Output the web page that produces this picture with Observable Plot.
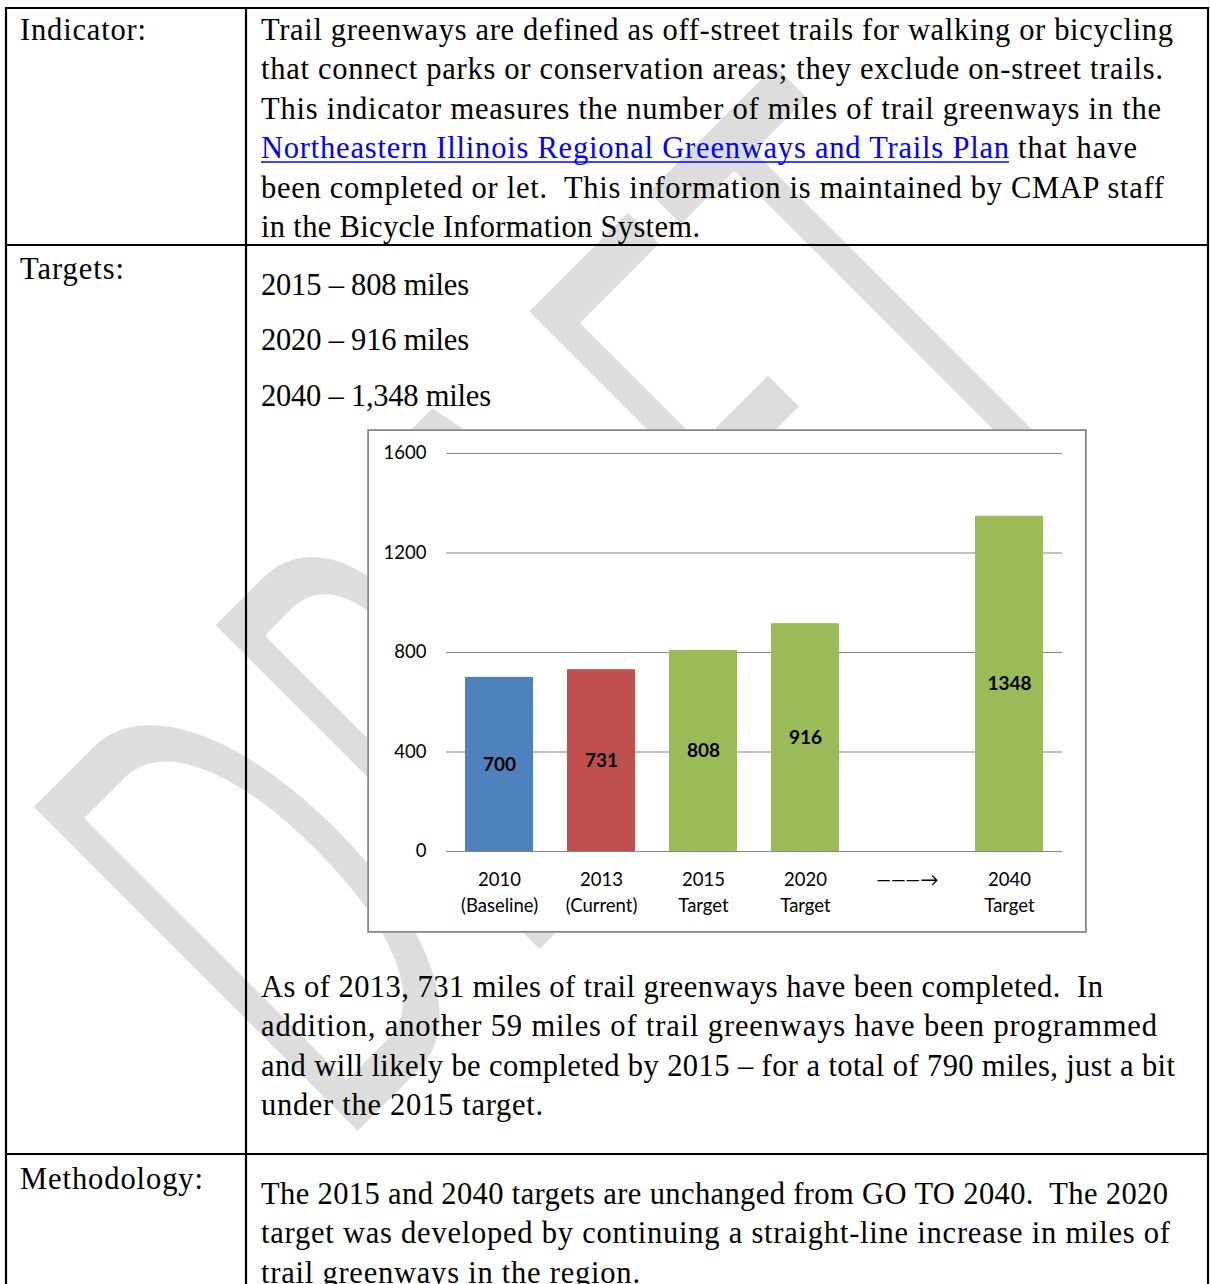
<!DOCTYPE html>
<html>
<head>
<meta charset="utf-8">
<script src="https://cdn.jsdelivr.net/npm/d3@7"></script>
<script src="https://cdn.jsdelivr.net/npm/@observablehq/plot@0.6"></script>
<style>
  html, body { margin: 0; padding: 0; background: #fff; }
  #page { position: relative; width: 1210px; height: 1284px; overflow: hidden; background: #fff; }
  #page > svg.layer { position: absolute; left: 0; top: 0; }
  .doc { font-family: "Liberation Serif", "Times New Roman", serif; font-size: 30.5px; fill: #000; white-space: pre; }
  .link { fill: #0000ff; }
  #chartbox { position: absolute; left: 368px; top: 430px; width: 716px; height: 500px; border: 1px solid #868686; outline: 1px solid #a0a0a0; background: #fff; }
</style>
</head>
<body>
<div id="page">
  <svg class="layer" width="1210" height="1284" viewBox="0 0 1210 1284">
    <g id="wm"></g>
    <g stroke="#000" stroke-width="2.2" fill="none">
      <line x1="6" y1="8" x2="1208" y2="8"/>
      <line x1="6" y1="7" x2="6" y2="1284"/>
      <line x1="246" y1="7" x2="246" y2="1284"/>
      <line x1="1208" y1="7" x2="1208" y2="1284"/>
      <line x1="6" y1="245" x2="1208" y2="245"/>
      <line x1="6" y1="1154" x2="1208" y2="1154"/>
    </g>
    <g id="doctext"></g>
  </svg>
  <div id="chartbox"></div>
</div>
<script>
// ---------- chart data ----------
const categories = ["2010\n(Baseline)", "2013\n(Current)", "2015\nTarget", "2020\nTarget", "———→", "2040\nTarget"];
const values = [700, 731, 808, 916, null, 1348];
const barColors = ["#4F81BD", "#C0504D", "#9BBB59", "#9BBB59", null, "#9BBB59"];
const yTicks = [0, 400, 800, 1200, 1600];

// ---------- document text ----------
const rowLabels = [
  {t: "Indicator:", y: 39.5, w: 126},
  {t: "Targets:", y: 278.5, w: 104},
  {t: "Methodology:", y: 1188.5, w: 183}
];
const bodyLines = [
  {t: "Trail greenways are defined as off-street trails for walking or bicycling", y: 39.5, w: 912},
  {t: "that connect parks or conservation areas; they exclude on-street trails.", y: 79, w: 902},
  {t: "This indicator measures the number of miles of trail greenways in the", y: 118.5, w: 900},
  {t: "Northeastern Illinois Regional Greenways and Trails Plan", y: 158, w: 748, link: true},
  {t: "that have", y: 158, w: 119, x: 1018},
  {t: "been completed or let.  This information is maintained by CMAP staff", y: 197.5, w: 903},
  {t: "in the Bicycle Information System.", y: 237, w: 439},
  {t: "2015 – 808 miles", y: 294.5, w: 208},
  {t: "2020 – 916 miles", y: 350, w: 208},
  {t: "2040 – 1,348 miles", y: 405.5, w: 230},
  {t: "As of 2013, 731 miles of trail greenways have been completed.  In", y: 996.5, w: 842},
  {t: "addition, another 59 miles of trail greenways have been programmed", y: 1036, w: 896},
  {t: "and will likely be completed by 2015 – for a total of 790 miles, just a bit", y: 1075.5, w: 914},
  {t: "under the 2015 target.", y: 1115, w: 282},
  {t: "The 2015 and 2040 targets are unchanged from GO TO 2040.  The 2020", y: 1203.5, w: 907},
  {t: "target was developed by continuing a straight-line increase in miles of", y: 1243, w: 909},
  {t: "trail greenways in the region.", y: 1282.5, w: 379}
];
const watermarkText = "DRAFT";

// watermark (light grey diagonal word behind the page)
d3.select("#wm").append("text")
  .attr("transform", "translate(338,1156) rotate(-45) scale(1,2.0)")
  .attr("font-family", "Lato, 'DejaVu Sans', sans-serif")
  .attr("font-size", 325)
  .attr("letter-spacing", 10)
  .attr("fill", "#dddddd")
  .attr("stroke", "#fff")
  .attr("stroke-width", 6)
  .attr("stroke-linejoin", "round")
  .attr("vector-effect", "non-scaling-stroke")
  .attr("paint-order", "fill")
  .text(watermarkText);

// document text
const dt = d3.select("#doctext");
for (const r of rowLabels) {
  dt.append("text").attr("class", "doc").attr("x", 20).attr("y", r.y)
    .attr("textLength", r.w).attr("lengthAdjust", "spacing").text(r.t);
}
for (const l of bodyLines) {
  const x = l.x ?? 261;
  dt.append("text").attr("class", "doc" + (l.link ? " link" : "")).attr("x", x).attr("y", l.y)
    .attr("textLength", l.w).attr("lengthAdjust", "spacing").text(l.t);
  if (l.link) {
    dt.append("line").attr("x1", x).attr("x2", x + l.w).attr("y1", l.y + 4).attr("y2", l.y + 4)
      .attr("stroke", "#0000ff").attr("stroke-width", 1.6);
  }
}

// chart
const data = categories.map((c, i) => ({cat: c, value: values[i], color: barColors[i]}));
const bars = data.filter(d => d.value != null);
const chart = Plot.plot({
  width: 716,
  height: 500,
  marginTop: 22,
  marginBottom: 80,
  marginLeft: 77,
  marginRight: 23,
  style: {fontFamily: "Lato, 'DejaVu Sans', sans-serif", fontSize: "18.5px", color: "#000", background: "#fff", overflow: "visible"},
  x: {domain: categories, paddingInner: 0.338, paddingOuter: 0.169, label: null},
  y: {domain: [0, 1600], label: null},
  marks: [
    Plot.ruleY(yTicks, {stroke: "#868686", strokeWidth: 1.2}),
    Plot.barY(bars, {x: "cat", y: "value", fill: "color"}),
    Plot.text(bars, {x: "cat", y: d => d.value / 2, text: d => String(d.value), fontWeight: "bold", fontSize: 19, fill: "#000"}),
    Plot.axisY({ticks: yTicks, tickFormat: d => String(d), tickSize: 0, tickPadding: 20, label: null, fontSize: 18.5}),
    Plot.axisX({tickSize: 0, tickPadding: 16, label: null, fontSize: 18.5, lineHeight: 1.4})
  ]
});
document.getElementById("chartbox").appendChild(chart);
</script>
</body>
</html>
